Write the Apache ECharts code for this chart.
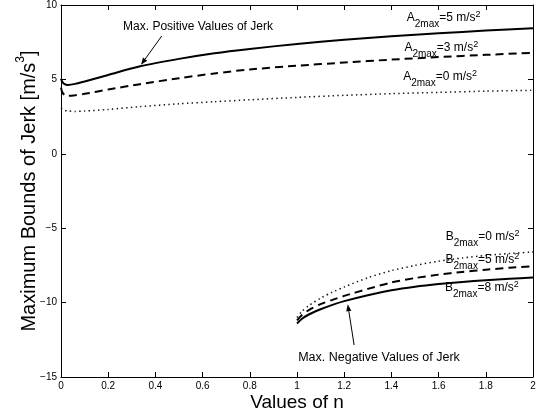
<!DOCTYPE html>
<html><head><meta charset="utf-8">
<script src="https://cdn.jsdelivr.net/npm/echarts@6/dist/echarts.min.js"></script>
<style>html,body{margin:0;padding:0;background:#fff}#c{width:543px;height:416px}</style>
</head><body><div id="c"></div>
<script>
const FONT = '"Liberation Sans", Arial, Helvetica, sans-serif';

// ---- data ----
const nPos = [0, 0.005, 0.015, 0.03, 0.06, 0.1, 0.2, 0.335, 0.5, 0.65, 0.8, 1.0, 1.2, 1.4, 1.6, 1.8, 2.0];
const jerkA5 = [5.05, 4.85, 4.68, 4.63, 4.70, 4.86, 5.30, 5.88, 6.38, 6.76, 7.05, 7.38, 7.66, 7.90, 8.10, 8.28, 8.44];
const jerkA3 = [4.45, 4.15, 3.95, 3.90, 3.94, 4.03, 4.32, 4.68, 5.08, 5.40, 5.67, 5.92, 6.13, 6.33, 6.50, 6.65, 6.79];
const jerkA0 = [3.05, 3.00, 2.92, 2.88, 2.85, 2.87, 2.98, 3.17, 3.36, 3.50, 3.63, 3.79, 3.93, 4.04, 4.13, 4.21, 4.27];

const nNeg = [1.0, 1.02, 1.05, 1.1, 1.15, 1.2, 1.3, 1.4, 1.5, 1.6, 1.7, 1.8, 1.9, 2.0];
const jerkB8 = [-11.4, -11.1, -10.8, -10.45, -10.15, -9.9, -9.5, -9.17, -8.93, -8.75, -8.61, -8.5, -8.4, -8.31];
const jerkB5 = [-11.2, -10.85, -10.5, -10.1, -9.82, -9.55, -9.08, -8.65, -8.35, -8.12, -7.94, -7.79, -7.66, -7.55];
const jerkB0 = [-11.0, -10.6, -10.2, -9.7, -9.3, -8.95, -8.33, -7.85, -7.5, -7.22, -7.0, -6.83, -6.7, -6.6];

const xTickLabels = ['0', '0.2', '0.4', '0.6', '0.8', '1', '1.2', '1.4', '1.6', '1.8', '2'];
const yTickLabels = ['\u221215', '\u221210', '\u22125', '0', '5', '10'];

const xAxisTitle = 'Values of n';
const yAxisTitle = 'Maximum Bounds of Jerk [m/s';
const posNote = 'Max. Positive Values of Jerk';
const negNote = 'Max. Negative Values of Jerk';

// ---- chart ----
const chart = echarts.init(document.getElementById('c'), null, {renderer: 'canvas'});
const pairs = (xs, ys) => xs.map((x, i) => [x, ys[i]]);

const axisCommon = {
  axisLine: {show: true, onZero: false, lineStyle: {color: '#000', width: 1}},
  axisTick: {show: true, inside: true, length: 5, lineStyle: {color: '#000', width: 1}},
  splitLine: {show: false}
};
function lineSeries(xs, ys, type, width, color) {
  return {
    type: 'line', data: pairs(xs, ys), symbol: 'none', showSymbol: false,
    smooth: 0.25, silent: true, z: 3,
    lineStyle: {color: color, width: width, type: type, cap: 'butt'}
  };
}

chart.setOption({
  animation: false,
  backgroundColor: '#fff',
  grid: {left: 61, right: 10, top: 4, bottom: 39, containLabel: false},
  xAxis: [
    Object.assign({type: 'value', min: 0, max: 2, interval: 0.2, position: 'bottom',
      axisLabel: {fontSize: 10, color: '#000', margin: 4, fontFamily: FONT,
        formatter: v => xTickLabels[Math.round(v / 0.2)]}}, axisCommon),
    Object.assign({type: 'value', min: 0, max: 2, interval: 0.2, position: 'top',
      axisLabel: {show: false}}, axisCommon)
  ],
  yAxis: [
    Object.assign({type: 'value', min: -15, max: 10, interval: 5, position: 'left',
      axisLabel: {fontSize: 10, color: '#000', margin: 4, fontFamily: FONT,
        formatter: v => yTickLabels[Math.round((v + 15) / 5)]}}, axisCommon),
    Object.assign({type: 'value', min: -15, max: 10, interval: 5, position: 'right',
      axisLabel: {show: false}}, axisCommon)
  ],
  series: [
    lineSeries(nPos, jerkA5, 'solid', 2, '#000'),
    lineSeries(nPos, jerkA3, [8, 5], 2, '#000'),
    lineSeries(nPos, jerkA0, [1.4, 3.3], 1.5, '#111'),
    lineSeries(nNeg, jerkB8, 'solid', 2, '#000'),
    lineSeries(nNeg, jerkB5, [8, 5], 2, '#000'),
    lineSeries(nNeg, jerkB0, [1.4, 3.3], 1.5, '#111')
  ]
});

// ---- annotations (anchored in data coordinates) ----
const mctx = document.createElement('canvas').getContext('2d');
function tw(t, size) { mctx.font = size + 'px ' + FONT; return mctx.measureText(t).width; }
function richGroup(parts, x, y, rotation) {
  let cx = 0; const children = [];
  parts.forEach(p => {
    children.push({type: 'text', x: cx, y: (p.dy || 0) - 0.31 * p.size, silent: true,
      style: {text: p.t, fontSize: p.size, fontFamily: FONT, fill: '#000', align: 'left', verticalAlign: 'middle'}});
    cx += tw(p.t, p.size);
  });
  return {g: {type: 'group', x: x, y: y, rotation: rotation || 0, children: children}, w: cx};
}
function partsWidth(parts) { return parts.reduce((s, p) => s + tw(p.t, p.size), 0); }
const px = d => chart.convertToPixel({xAxisIndex: 0, yAxisIndex: 0}, d);
function arrow(tail, tip) {
  const [x1, y1] = px(tail), [x2, y2] = px(tip);
  const a = Math.atan2(y2 - y1, x2 - x1), L = 7, W = 2.6;
  const bx = x2 - L * Math.cos(a), by = y2 - L * Math.sin(a);
  const nx = -Math.sin(a), ny = Math.cos(a);
  return [
    {type: 'line', silent: true, shape: {x1: x1, y1: y1, x2: bx, y2: by}, style: {stroke: '#000', lineWidth: 1}},
    {type: 'polygon', silent: true, shape: {points: [[x2, y2], [bx + nx * W, by + ny * W], [bx - nx * W, by - ny * W]]}, style: {fill: '#000'}}
  ];
}
function subLabel(letter, val, at) {
  const p = px(at);
  return richGroup([
    {t: letter, size: 12}, {t: '2max', size: 10, dy: 6},
    {t: '=' + val + ' m/s', size: 12}, {t: '2', size: 9, dy: -4}
  ], p[0], p[1]).g;
}

const graphics = [];
graphics.push(subLabel('A', '5', [1.465, 8.93]));
graphics.push(subLabel('A', '3', [1.455, 6.90]));
graphics.push(subLabel('A', '0', [1.450, 4.95]));
graphics.push(subLabel('B', '0', [1.630, -5.82]));
graphics.push(subLabel('B', '5', [1.629, -7.36]));
graphics.push(subLabel('B', '8', [1.627, -9.24]));
{
  const p1 = px([0.263, 8.29]);
  graphics.push(richGroup([{t: posNote, size: 12}], p1[0], p1[1]).g);
  const p2 = px([1.005, -13.93]);
  graphics.push(richGroup([{t: negNote, size: 12.5}], p2[0], p2[1]).g);
  graphics.push(...arrow([0.427, 7.92], [0.339, 5.98]));
  graphics.push(...arrow([1.242, -12.85], [1.215, -10.11]));
}
{
  const gx = px([1, -15]);
  const xparts = [{t: xAxisTitle, size: 19}];
  const w = partsWidth(xparts);
  graphics.push(richGroup(xparts, gx[0] - w / 2, gx[1] + 32).g);
  const top = px([0, 10]), bot = px([0, -15]);
  const yparts = [{t: yAxisTitle, size: 20}, {t: '3', size: 12, dy: -12}, {t: ']', size: 20}];
  const wy = partsWidth(yparts);
  const cy = (top[1] + bot[1]) / 2;
  graphics.push(richGroup(yparts, top[0] - 25, cy + wy / 2, Math.PI / 2).g);
}
chart.setOption({graphic: graphics});
</script>
</body></html>
